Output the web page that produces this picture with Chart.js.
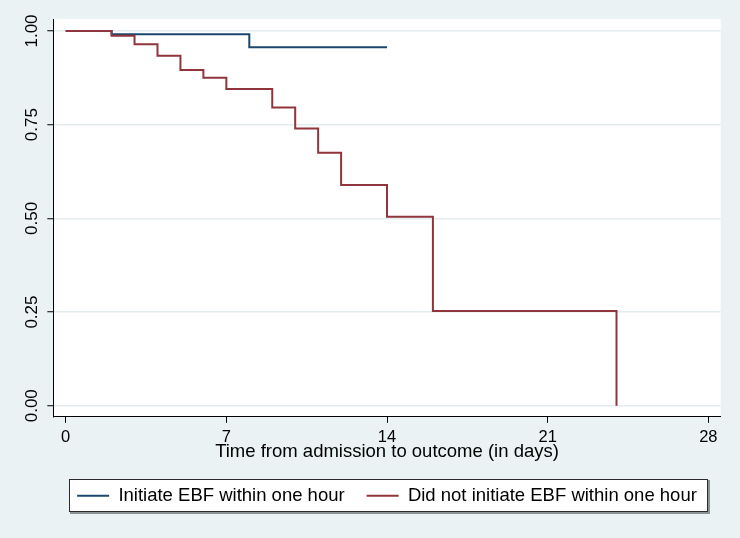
<!DOCTYPE html>
<html>
<head>
<meta charset="utf-8">
<script src="https://cdn.jsdelivr.net/npm/chart.js@4"></script>
<style>
html,body{margin:0;padding:0;background:#eaf2f3;}
canvas{display:block;}
</style>
</head>
<body>
<canvas id="c" width="740" height="538"></canvas>
<script>
// ---- data ----
const seriesNames = ['Initiate EBF within one hour', 'Did not initiate EBF within one hour'];
const ebfTimes = [0, 2, 8, 14];
const ebfSurvival = [1, 0.991, 0.9565, 0.9565];
const noEbfTimes = [0, 2, 3, 4, 5, 6, 7, 9, 10, 11, 12, 14, 16, 24];
const noEbfSurvival = [1, 0.9875, 0.9645, 0.934, 0.896, 0.875, 0.845, 0.796, 0.740, 0.675, 0.589, 0.504, 0.253, 0];
const xTicks = [0, 7, 14, 21, 28];
const yTicks = [0, 0.25, 0.5, 0.75, 1];
const xTitle = 'Time from admission to outcome (in days)';

// ---- styles ----
const FONT = '"Liberation Sans", Arial, sans-serif';
const BLUE = '#1a476f';
const RED = '#90353b';
const BG = '#eaf2f3';

const bgPlugin = {
  id: 'bgPlugin',
  beforeDraw(chart) {
    const {ctx, chartArea: a, width, height} = chart;
    ctx.save();
    ctx.fillStyle = BG;
    ctx.fillRect(0, 0, width, height);
    ctx.fillStyle = '#ffffff';
    ctx.fillRect(a.left, a.top, a.right - a.left, a.bottom - a.top);
    const lg = chart.legend;
    if (lg && lg.legendHitBoxes && lg.legendHitBoxes.length) {
      const hb = lg.legendHitBoxes;
      const last = hb[hb.length - 1];
      const l = Math.round(hb[0].left - 8.5);
      const r = Math.round(last.left + last.width + 11);
      const t = Math.round(hb[0].top - 7.75);
      const b = Math.round(hb[0].top + hb[0].height + 7.25);
      ctx.fillStyle = '#8a9496';
      ctx.fillRect(l + 1, t + 1, r - l + 1, b - t + 1);
      ctx.fillStyle = '#ffffff';
      ctx.fillRect(l, t, r - l, b - t);
      ctx.strokeStyle = '#2a2a2a';
      ctx.lineWidth = 1;
      ctx.strokeRect(l + 0.5, t + 0.5, r - l - 1, b - t - 1);
    }
    ctx.restore();
  }
};

const toPoints = (xs, ys) => xs.map((x, i) => ({x: x, y: ys[i]}));

new Chart(document.getElementById('c').getContext('2d'), {
  type: 'line',
  data: {
    datasets: [
      {
        label: seriesNames[0],
        data: toPoints(ebfTimes, ebfSurvival),
        borderColor: BLUE, backgroundColor: BLUE,
        borderWidth: 2, stepped: 'before', pointRadius: 0, fill: false,
        order: 1
      },
      {
        label: seriesNames[1],
        data: toPoints(noEbfTimes, noEbfSurvival),
        borderColor: RED, backgroundColor: RED,
        borderWidth: 2, stepped: 'before', pointRadius: 0, fill: false,
        order: 0
      }
    ]
  },
  options: {
    responsive: false,
    animation: false,
    devicePixelRatio: 1,
    layout: {padding: {left: 0, top: 19, right: 19.3, bottom: 23}},
    plugins: {
      legend: {
        position: 'bottom',
        fullSize: false,
        labels: {
          usePointStyle: true,
          pointStyle: 'line',
          pointStyleWidth: 32,
          padding: 22,
          color: '#000',
          font: {family: FONT, size: 18.5},
          sort: (a, b) => a.datasetIndex - b.datasetIndex
        }
      },
      tooltip: {enabled: false}
    },
    scales: {
      x: {
        type: 'linear',
        min: -0.54,
        max: 28.54,
        afterBuildTicks: s => { s.ticks = xTicks.map(v => ({value: v})); },
        afterFit: s => { s.height = 47.75; },
        grid: {drawOnChartArea: false, drawTicks: true, tickLength: 6, tickColor: '#000', tickWidth: 1},
        border: {display: true, color: '#000', width: 1},
        ticks: {padding: 5, color: '#000', font: {family: FONT, size: 16.5}, maxRotation: 0, autoSkip: false},
        title: {
          display: true, text: xTitle, color: '#000',
          font: {family: FONT, size: 18.5, lineHeight: 1},
          padding: {top: 0, bottom: 3.2}
        }
      },
      y: {
        type: 'linear',
        min: -0.0294,
        max: 1.032,
        afterBuildTicks: s => { s.ticks = yTicks.map(v => ({value: v})); },
        afterFit: s => { s.width = 53.3; },
        grid: {color: '#e3ecee', lineWidth: 1.5, tickColor: '#000', tickLength: 6, tickWidth: 1, drawTicks: true},
        border: {display: true, color: '#000', width: 1},
        ticks: {
          minRotation: 90, maxRotation: 90, crossAlign: 'center', padding: -2,
          color: '#000', font: {family: FONT, size: 17},
          callback: v => Number(v).toFixed(2)
        }
      }
    }
  },
  plugins: [bgPlugin]
});
</script>
</body>
</html>
